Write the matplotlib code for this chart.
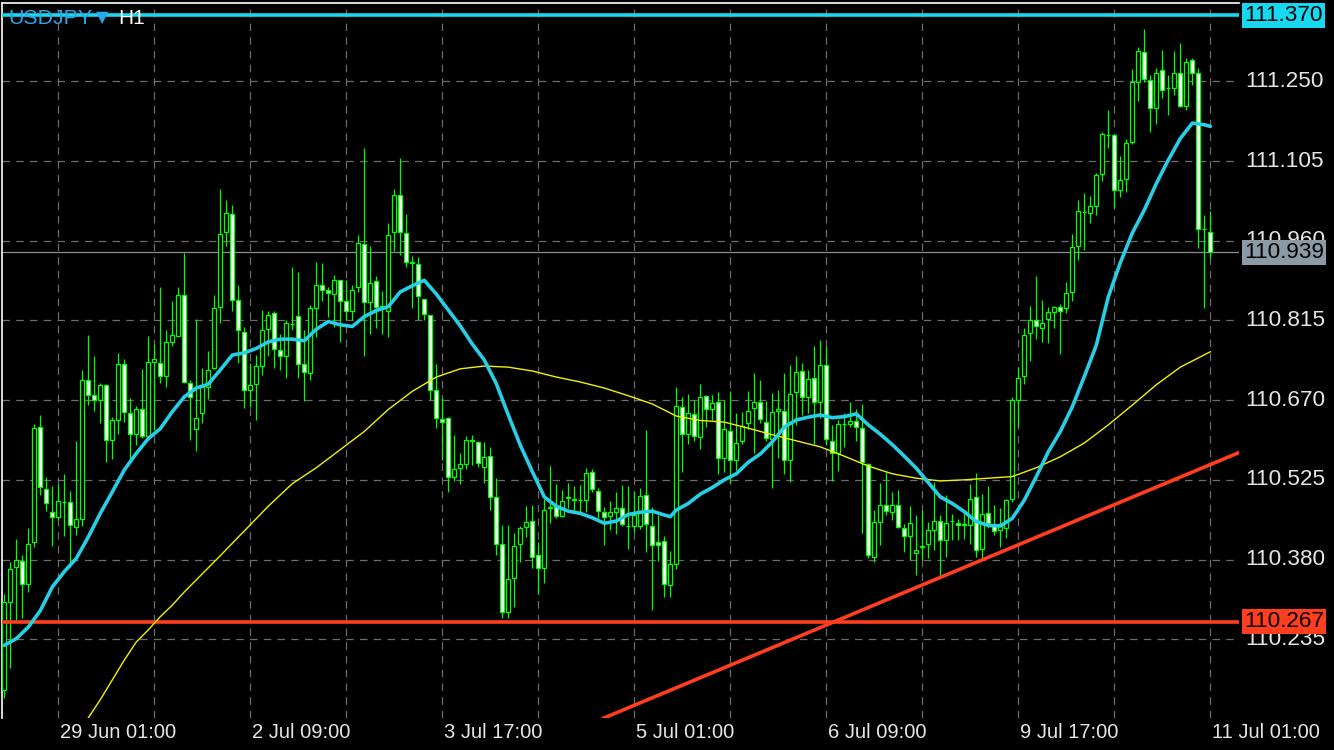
import matplotlib
matplotlib.use('Agg')
import matplotlib.pyplot as plt
from matplotlib.patches import Rectangle
from matplotlib.transforms import blended_transform_factory

# ---------------- data (USDJPY, H1) ----------------
opens = [110.143,110.302,110.366,110.378,110.335,110.411,110.622,110.508,110.467,110.458,
         110.484,110.484,110.440,110.454,110.706,110.679,110.670,110.697,110.597,110.633,
         110.736,110.646,110.609,110.654,110.604,110.739,110.737,110.714,110.775,110.787,
         110.862,110.702,110.618,110.646,110.694,110.728,110.839,110.975,111.008,110.852,
         110.794,110.688,110.699,110.733,110.799,110.828,110.762,110.751,110.808,110.823,
         110.735,110.719,110.837,110.879,110.870,110.863,110.888,110.850,110.833,110.875,
         110.954,110.848,110.886,110.841,110.833,110.975,111.044,110.974,110.921,110.917,
         110.854,110.825,110.688,110.635,110.637,110.530,110.546,110.554,110.597,110.593,
         110.549,110.568,110.493,110.409,110.285,110.346,110.408,110.439,110.450,110.389,
         110.365,110.475,110.477,110.460,110.492,110.489,110.489,110.488,110.540,110.505,
         110.466,110.460,110.467,110.473,110.441,110.441,110.441,110.497,110.441,110.412,
         110.414,110.334,110.371,110.658,110.609,110.644,110.603,110.678,110.653,110.666,
         110.564,110.614,110.561,110.596,110.628,110.655,110.666,110.630,110.599,110.651,
         110.651,110.561,110.684,110.723,110.676,110.710,110.667,110.734,110.596,110.573,
         110.626,110.626,110.632,110.620,110.554,110.385,110.448,110.479,110.467,110.479,
         110.438,110.422,110.391,110.403,110.409,110.434,110.450,110.415,110.450,110.447,
         110.443,110.443,110.493,110.399,110.464,110.441,110.433,110.438,110.491,110.670,
         110.713,110.792,110.815,110.802,110.817,110.830,110.839,110.837,110.867,110.951,
         111.012,111.010,111.024,111.081,111.152,111.152,111.052,111.073,111.140,111.248,
         111.304,111.252,111.201,111.271,111.237,111.238,111.265,111.206,111.288,111.266,
         110.981,110.976]
highs = [110.318,110.376,110.418,110.388,110.437,110.626,110.643,110.530,110.514,110.517,
         110.535,110.504,110.595,110.725,110.788,110.750,110.701,110.699,110.639,110.756,
         110.745,110.674,110.659,110.727,110.787,110.773,110.875,110.797,110.851,110.876,
         110.938,110.707,110.817,110.728,110.759,110.861,111.054,111.034,111.025,110.880,
         110.803,110.737,110.752,110.834,110.832,110.832,110.790,110.816,110.912,110.903,
         110.797,110.843,110.921,110.919,110.875,110.897,110.889,110.888,110.879,110.970,
         111.129,110.950,110.896,110.868,110.993,111.054,111.110,111.009,110.932,110.930,
         110.854,110.825,110.736,110.673,110.640,110.606,110.573,110.604,110.606,110.596,
         110.594,110.584,110.529,110.443,110.443,110.429,110.441,110.477,110.479,110.411,
         110.491,110.550,110.518,110.506,110.520,110.513,110.515,110.546,110.545,110.511,
         110.476,110.486,110.503,110.515,110.513,110.503,110.510,110.615,110.475,110.461,
         110.422,110.395,110.693,110.676,110.682,110.671,110.699,110.680,110.679,110.685,
         110.670,110.686,110.646,110.649,110.686,110.719,110.706,110.668,110.683,110.688,
         110.719,110.734,110.750,110.738,110.725,110.768,110.779,110.768,110.625,110.634,
         110.647,110.667,110.653,110.663,110.555,110.470,110.520,110.539,110.503,110.506,
         110.444,110.477,110.461,110.471,110.448,110.521,110.461,110.497,110.462,110.453,
         110.470,110.517,110.537,110.500,110.513,110.479,110.473,110.491,110.676,110.731,
         110.802,110.842,110.896,110.852,110.839,110.841,110.845,110.885,110.973,111.034,
         111.046,111.041,111.083,111.157,111.197,111.155,111.114,111.145,111.272,111.312,
         111.346,111.262,111.274,111.307,111.262,111.305,111.319,111.293,111.292,111.274,
         111.007,111.014]
lows = [110.128,110.183,110.270,110.274,110.321,110.403,110.497,110.469,110.404,110.452,
        110.423,110.367,110.424,110.441,110.662,110.651,110.628,110.558,110.562,110.609,
        110.631,110.561,110.588,110.602,110.602,110.615,110.701,110.694,110.769,110.787,
        110.702,110.597,110.578,110.629,110.672,110.726,110.811,110.950,110.833,110.737,
        110.655,110.658,110.634,110.716,110.750,110.728,110.725,110.710,110.797,110.710,
        110.669,110.706,110.785,110.851,110.822,110.803,110.775,110.816,110.816,110.866,
        110.750,110.790,110.802,110.790,110.785,110.941,110.934,110.912,110.838,110.816,
        110.815,110.670,110.619,110.561,110.503,110.523,110.517,110.545,110.552,110.549,
        110.519,110.470,110.388,110.273,110.273,110.294,110.376,110.421,110.365,110.317,
        110.338,110.446,110.455,110.457,110.473,110.467,110.467,110.467,110.503,110.455,
        110.406,110.433,110.427,110.441,110.400,110.430,110.436,110.394,110.289,110.378,
        110.312,110.312,110.362,110.540,110.590,110.596,110.581,110.621,110.634,110.535,
        110.540,110.519,110.543,110.590,110.617,110.573,110.629,110.596,110.511,110.565,
        110.535,110.521,110.625,110.643,110.646,110.591,110.637,110.588,110.523,110.541,
        110.585,110.621,110.596,110.428,110.383,110.376,110.406,110.461,110.452,110.437,
        110.393,110.379,110.352,110.379,110.382,110.397,110.349,110.385,110.415,110.415,
        110.418,110.409,110.385,110.382,110.437,110.424,110.403,110.420,110.485,110.621,
        110.699,110.741,110.781,110.776,110.774,110.802,110.754,110.828,110.851,110.925,
        110.943,110.993,111.007,111.069,111.129,111.020,111.040,111.049,111.136,111.215,
        111.249,111.157,111.172,111.219,111.188,111.225,111.203,111.197,111.243,110.947,
        110.837,110.928]
closes = [110.302,110.362,110.380,110.335,110.409,110.620,110.512,110.483,110.458,110.487,
          110.485,110.442,110.453,110.706,110.679,110.670,110.697,110.597,110.633,110.736,
          110.648,110.609,110.653,110.604,110.739,110.744,110.714,110.775,110.788,110.862,
          110.703,110.675,110.638,110.694,110.724,110.837,110.973,111.010,110.853,110.797,
          110.688,110.698,110.733,110.797,110.824,110.763,110.751,110.810,110.809,110.735,
          110.721,110.837,110.879,110.871,110.864,110.888,110.850,110.833,110.871,110.955,
          110.848,110.884,110.839,110.837,110.970,111.043,110.975,110.922,110.920,110.859,
          110.826,110.689,110.637,110.631,110.530,110.545,110.554,110.597,110.596,110.555,
          110.566,110.494,110.409,110.284,110.344,110.404,110.437,110.448,110.385,110.364,
          110.471,110.474,110.459,110.487,110.493,110.490,110.489,110.538,110.508,110.469,
          110.457,110.466,110.473,110.444,110.441,110.461,110.495,110.444,110.407,110.407,
          110.336,110.371,110.660,110.608,110.646,110.604,110.676,110.653,110.664,110.564,
          110.617,110.561,110.592,110.623,110.651,110.666,110.635,110.602,110.648,110.653,
          110.561,110.682,110.721,110.676,110.708,110.667,110.734,110.599,110.573,110.626,
          110.627,110.632,110.621,110.557,110.389,110.448,110.479,110.468,110.479,110.439,
          110.422,110.447,110.398,110.404,110.433,110.450,110.415,110.446,110.451,110.443,
          110.444,110.491,110.398,110.462,110.447,110.432,110.444,110.489,110.670,110.710,
          110.788,110.816,110.804,110.811,110.830,110.839,110.833,110.864,110.948,111.014,
          111.013,111.024,111.079,111.154,111.153,111.052,111.071,111.137,111.248,111.306,
          111.255,111.201,111.266,111.235,111.237,111.266,111.206,111.286,111.266,110.981,
          110.981,110.939]

# fast moving average (cyan), read at every 2nd bar
cyan_idx = [0,2,4,6,8,10,12,14,16,18,20,22,24,26,28,30,32,34,36,38,40,42,44,46,48,50,
            52,54,56,58,60,62,64,66,68,70,72,74,76,78,80,82,84,86,88,90,92,94,96,98,100,
            102,104,106,108,110,111,112,114,116,118,120,122,124,126,128,130,132,134,136,
            138,140,142,144,146,148,150,152,154,156,158,160,162,164,166,168,170,172,174,
            176,178,180,182,184,186,188,190,192,194,196,198,200,201]
cyan_ma = [110.224,110.236,110.257,110.287,110.330,110.358,110.382,110.421,110.464,110.503,
           110.543,110.573,110.600,110.618,110.649,110.676,110.692,110.699,110.725,110.752,
           110.756,110.764,110.776,110.781,110.781,110.778,110.799,110.813,110.807,110.804,
           110.822,110.833,110.840,110.867,110.878,110.888,110.863,110.834,110.805,110.772,
           110.743,110.700,110.643,110.588,110.540,110.494,110.477,110.468,110.464,110.456,
           110.446,110.450,110.462,110.466,110.468,110.461,110.458,110.470,110.482,110.499,
           110.511,110.525,110.536,110.557,110.572,110.594,110.621,110.634,110.639,110.643,
           110.638,110.640,110.645,110.625,110.608,110.589,110.568,110.546,110.520,110.494,
           110.482,110.467,110.449,110.442,110.441,110.455,110.488,110.531,110.576,110.613,
           110.658,110.713,110.770,110.858,110.920,110.974,111.016,111.064,111.107,111.146,
           111.174,111.171,111.168]

# slow moving average (yellow)
yellow_idx = [14,16,18,20,22,24,26,28,30,32,36,40,44,48,52,56,60,64,68,72,76,80,84,88,92,
              96,100,104,108,112,116,120,124,128,132,136,140,144,148,152,156,160,164,168,
              172,176,180,184,188,192,196,201]
yellow_ma = [110.092,110.125,110.161,110.197,110.230,110.252,110.276,110.297,110.321,110.343,
             110.387,110.432,110.477,110.518,110.547,110.580,110.613,110.653,110.686,110.712,
             110.727,110.732,110.730,110.723,110.712,110.703,110.692,110.678,110.663,110.641,
             110.633,110.630,110.619,110.607,110.596,110.585,110.568,110.550,110.536,110.528,
             110.523,110.525,110.528,110.531,110.547,110.567,110.592,110.625,110.661,110.698,
             110.730,110.758]

grid_prices = [111.250, 111.105, 110.960, 110.815, 110.670, 110.525, 110.380, 110.235]
vgrid_idx = [9, 25, 41, 57, 73, 89, 105, 121, 137, 153, 169, 185, 201]
time_idx = [9, 41, 73, 105, 137, 169, 201]
time_labels = ['29 Jun 01:00', '2 Jul 09:00', '3 Jul 17:00', '5 Jul 01:00',
               '6 Jul 09:00', '9 Jul 17:00', '11 Jul 01:00']

resistance = 111.370
support = 110.267
bid = 110.939
trend_idx = [100, 205]
trend_price = [110.092, 110.571]

# ---------------- drawing ----------------
W, H = 1334, 750
fig = plt.figure(figsize=(W / 100, H / 100), dpi=100, facecolor='black')
ax = fig.add_axes([2 / W, 1 - 718 / H, 1237 / W, 715 / H])
ax.set_facecolor('black')
ax.set_xlim(-0.38, 205.78)
ax.set_ylim(110.0917, 111.3925)
for s in ax.spines.values():
    s.set_visible(False)
for side in ('left', 'top'):
    ax.spines[side].set_visible(True)
    ax.spines[side].set_color('white')
    ax.spines[side].set_linewidth(1.2)
ax.set_xticks([])
ax.set_yticks([])

GRID = '#6c6c6c'
for p in grid_prices:
    ax.axhline(p, color=GRID, lw=0.9, ls=(0, (6, 5)), zorder=1)
for xi in vgrid_idx:
    ax.axvline(xi, color=GRID, lw=0.9, ls=(0, (6, 5)), zorder=1)

GREEN = '#00ff00'
bw = 0.62
ax.vlines(range(len(opens)), lows, highs, color=GREEN, lw=0.9, zorder=3)
for i, (o, c) in enumerate(zip(opens, closes)):
    bottom = min(o, c)
    h = abs(c - o)
    fc = 'black' if c > o else ('white' if c < o else GREEN)
    ax.add_patch(Rectangle((i - bw / 2, bottom), bw, h, facecolor=fc,
                           edgecolor=GREEN, lw=0.9, zorder=4))

# horizontal levels and trend line
ax.axhline(bid, color='#8a8f94', lw=0.9, zorder=2)
ax.axhline(resistance, color='#18d8f0', lw=2.6, zorder=5)
ax.axhline(support, color='#ff3d1f', lw=2.6, zorder=5)
ax.axline((trend_idx[0], trend_price[0]), (trend_idx[1], trend_price[1]),
          color='#ff3d1f', lw=2.6, zorder=5)

# moving averages
ax.plot(yellow_idx, yellow_ma, color='#f2f200', lw=1.0, zorder=6)
ax.plot(cyan_idx, cyan_ma, color='#26cfe6', lw=2.6, zorder=7, solid_capstyle='round')

# right price labels
FONT = ['Liberation Sans', 'DejaVu Sans']
tr = blended_transform_factory(ax.transAxes, ax.transData)
for p in grid_prices:
    ax.text(1.0 + 6 / 1237, p, f'{p:.3f}', transform=tr, ha='left', va='center',
            color='#e6e6e6', fontsize=16.2, family=FONT, clip_on=False)
for p, bg in [(resistance, '#18d8f0'), (bid, '#8c9aa6'), (support, '#ff3d1f')]:
    ax.text(1.0 + 5 / 1237, p, f'{p:.3f}', transform=tr, ha='left', va='center',
            color='black', fontsize=16.2, family=FONT, clip_on=False, zorder=10,
            bbox=dict(boxstyle='square,pad=0.1', fc=bg, ec='none'))

# time labels
trx = blended_transform_factory(ax.transData, ax.transAxes)
for xi, lab in zip(time_idx, time_labels):
    ax.text(xi + 0.25, -15 / 715, lab, transform=trx, ha='left', va='center',
            color='#e6e6e6', fontsize=14.5, family=FONT, clip_on=False)

# title
fig.text(8 / W, 1 - 18 / H, 'USDJPY', color='#2aa8ec', fontsize=15.4, family=FONT,
         ha='left', va='center', zorder=20)
fig.text(96 / W, 1 - 18 / H, '\u25BC', color='#2aa8ec', fontsize=11.5, family=['DejaVu Sans'],
         ha='left', va='center', zorder=20)
fig.text(118 / W, 1 - 18 / H, 'H1', color='white', fontsize=15, family=FONT,
         ha='left', va='center', zorder=20)

fig.savefig('out.png', dpi=100, facecolor='black')
